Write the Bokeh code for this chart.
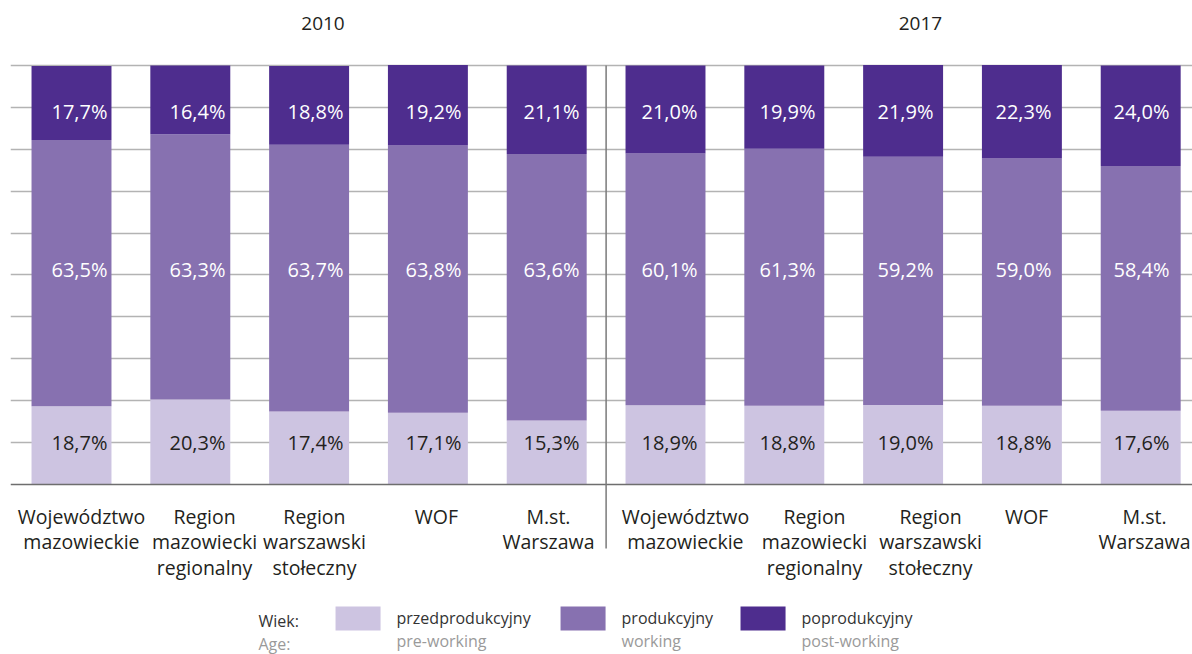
from bokeh.plotting import figure
from bokeh.models import Range1d, FixedTicker, ColumnDataSource
from bokeh.core.properties import value
from bokeh.embed import file_html
from bokeh.resources import INLINE

# ---- data ----
categories = ["Województwo\nmazowieckie", "Region\nmazowiecki\nregionalny", "Region\nwarszawski\nstołeczny",
              "WOF", "M.st.\nWarszawa",
              "Województwo\nmazowieckie", "Region\nmazowiecki\nregionalny", "Region\nwarszawski\nstołeczny",
              "WOF", "M.st.\nWarszawa"]
years = ["2010", "2017"]
pre_working = [18.7, 20.3, 17.4, 17.1, 15.3, 18.9, 18.8, 19.0, 18.8, 17.6]
working = [63.5, 63.3, 63.7, 63.8, 63.6, 60.1, 61.3, 59.2, 59.0, 58.4]
post_working = [17.7, 16.4, 18.8, 19.2, 21.1, 21.0, 19.9, 21.9, 22.3, 24.0]
legend_pl = ["przedprodukcyjny", "produkcyjny", "poprodukcyjny"]
legend_en = ["pre-working", "working", "post-working"]
legend_title = ["Wiek:", "Age:"]
grid_ticks = [10, 20, 30, 40, 50, 60, 70, 80, 90, 100]

# ---- layout constants (positions, not data) ----
cat_label_offset = [0.084, 0.12, 0.045, 0.072, 0.015, 0.168, 0.254, 0.231, 0.039, 0.032]

C_PRE, C_WORK, C_POST = "#cdc4e1", "#8771b0", "#4e2d8e"
FONT = "Open Sans"


def fmt(v):
    return f"{v:.1f}".replace(".", ",") + "%"


xs = list(range(len(categories)))
src = ColumnDataSource(dict(x=xs, pre=pre_working, work=working, post=post_working,
                            cat=categories,
                            xlab=[i + 0.067 - 0.0067 * i for i in xs],
                            xcat=[i + o for i, o in zip(xs, cat_label_offset)],
                            lpre=[fmt(v) for v in pre_working],
                            lwork=[fmt(v) for v in working],
                            lpost=[fmt(v) for v in post_working]))

XR = (-0.5135, 9.436)
p = figure(width=1192, height=654, output_backend="svg", toolbar_location=None,
           x_range=Range1d(*XR), y_range=Range1d(-40.57, 115.51),
           min_border_left=10, min_border_right=0, min_border_top=0, min_border_bottom=0)
p.outline_line_color = None
p.xaxis.visible = False
p.yaxis.visible = False
p.xgrid.grid_line_color = None
p.ygrid.ticker = FixedTicker(ticks=grid_ticks)
p.ygrid.grid_line_color = "#b3b3b3"
p.ygrid.grid_line_width = 1.5

p.vbar_stack(["pre", "work", "post"], x="x", width=0.673, source=src,
             color=[C_PRE, C_WORK, C_POST], line_color=None)

# baseline axis line and divider
p.segment(x0=[XR[0]], y0=[0], x1=[XR[1]], y1=[0], line_color="#6e6e6e", line_width=1.5)
p.segment(x0=[4.5], y0=[100], x1=[4.5], y1=[-15.3], line_color="#7a7a7a", line_width=1.5)

# value labels
common = dict(text_align="center", text_baseline="middle", text_font=value(FONT), text_font_size="20px")
p.text(x="xlab", y=10.1, text="lpre", source=src, text_color="#231f20", **common)
p.text(x="xlab", y=51.3, text="lwork", source=src, text_color="white", **common)
p.text(x="xlab", y=89.0, text="lpost", source=src, text_color="white", **common)

# category labels
p.text(x="xcat", y=-4.5, text="cat", source=src, text_align="center", text_baseline="top",
       text_font=value(FONT), text_font_size="19.5px", text_color="#231f20", text_line_height=0.93)

# year labels
p.text(x=[2.117, 7.146], y=[110.1, 110.1], text=years, text_align="center", text_baseline="middle",
       text_font=value(FONT), text_font_size="19px", text_color="#231f20")

# legend
p.rect(x=[2.412, 4.306, 5.821], y=[-31.98] * 3, width=0.379, height=5.73,
       color=[C_PRE, C_WORK, C_POST], line_color=None)
leg = dict(text_align="left", text_baseline="middle", text_font=value(FONT), text_font_size="16px")
p.text(x=[2.736, 4.630, 6.145], y=[-31.74] * 3, text=legend_pl, text_color="#333333", **leg)
p.text(x=[2.736, 4.630, 6.145], y=[-37.4] * 3, text=legend_en, text_color="#9a9a9a", **leg)
p.text(x=[1.574, 1.574], y=[-32.46, -38.1], text=legend_title,
       text_color=["#333333", "#9a9a9a"], **leg)

open("out.html", "w").write(file_html(p, INLINE))
